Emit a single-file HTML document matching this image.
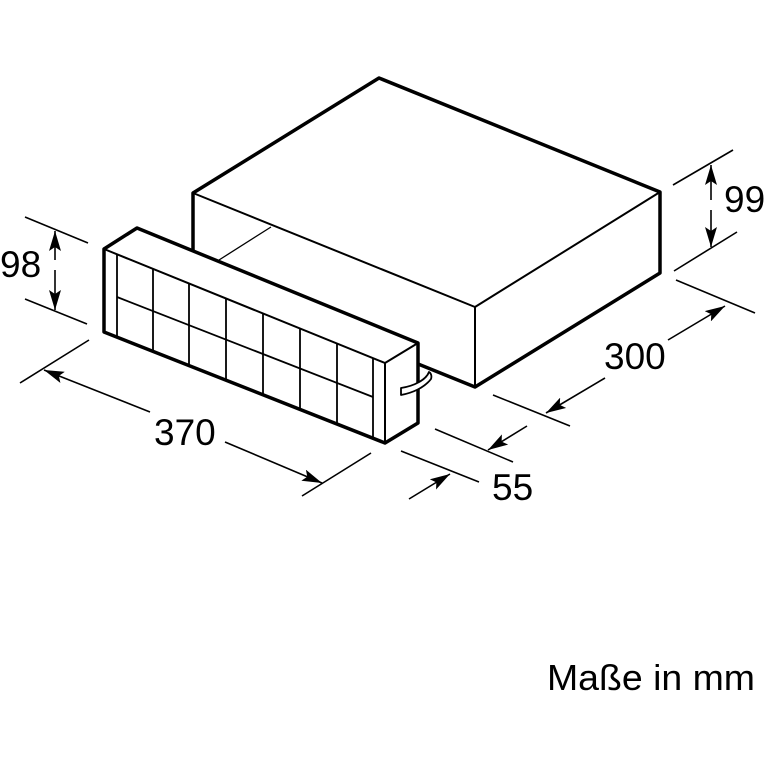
<!DOCTYPE html>
<html><head><style>body{margin:0;background:#fff}svg{display:block}</style></head><body>
<svg width="770" height="770" viewBox="0 0 770 770" xmlns="http://www.w3.org/2000/svg" font-family="Liberation Sans, sans-serif">
<defs>
<marker id="b" viewBox="0 0 20 12" markerWidth="20" markerHeight="12" refX="20" refY="6" orient="auto" markerUnits="userSpaceOnUse"><path d="M0,0L20,6L0,12L4,6z" fill="#000"/></marker></defs>
<g stroke="#000" fill="none" stroke-linejoin="round">
<polygon points="193,193 379,78 660,192 660,273 475,387 193,273" fill="#fff" stroke-width="3.5"/>
<polyline points="193,193 475,307 660,192" stroke-width="2"/>
<line x1="475" y1="307" x2="475" y2="387" stroke-width="2"/>
<line x1="219" y1="260" x2="271" y2="227" stroke-width="1.3"/>
<polygon points="104,249 137,228 418,343 418,423 385,443 104,332" fill="#fff" stroke-width="3.5"/>
<polyline points="104,249 385,363 418,343" stroke-width="2"/>
<line x1="385" y1="363" x2="385" y2="443" stroke-width="2"/>
<g stroke-width="1.8">
<line x1="117" y1="254" x2="117" y2="337"/>
<line x1="153" y1="269" x2="153" y2="351"/>
<line x1="189" y1="284" x2="189" y2="366"/>
<line x1="226" y1="299" x2="226" y2="380"/>
<line x1="263" y1="314" x2="263" y2="395"/>
<line x1="300" y1="329" x2="300" y2="409"/>
<line x1="337" y1="344" x2="337" y2="424"/>
<line x1="373" y1="358" x2="373" y2="438"/>
<line x1="117" y1="297" x2="373" y2="397"/>
</g>
<path d="M401,395 C412,393 424,388 431,379 C432,376 431,373 429,372 C426,380 414,386 401,388 Z" fill="#fff" stroke-width="1.8"/>
<g stroke-width="1.6">
<line x1="25" y1="217" x2="88" y2="243"/><line x1="25" y1="299" x2="87" y2="324"/>
<line x1="55" y1="260" x2="55" y2="231" marker-end="url(#b)"/><line x1="55" y1="270" x2="55" y2="310" marker-end="url(#b)"/>
<line x1="20" y1="383" x2="89" y2="340"/><line x1="302" y1="496" x2="371" y2="453"/>
<line x1="150" y1="412" x2="44" y2="370" marker-end="url(#b)"/><line x1="225" y1="442" x2="322" y2="483" marker-end="url(#b)"/>
<line x1="673" y1="185" x2="733" y2="150"/><line x1="674" y1="271" x2="737" y2="232"/>
<line x1="711" y1="200" x2="711" y2="165" marker-end="url(#b)"/><line x1="711" y1="210" x2="711" y2="247" marker-end="url(#b)"/>
<line x1="676" y1="280" x2="755" y2="313"/><line x1="493" y1="395" x2="570" y2="426"/>
<line x1="668" y1="340" x2="725" y2="306" marker-end="url(#b)"/><line x1="605" y1="378" x2="546" y2="413" marker-end="url(#b)"/>
<line x1="435" y1="429" x2="513" y2="462"/><line x1="401" y1="451" x2="479" y2="482"/>
<line x1="527" y1="426" x2="488" y2="450" marker-end="url(#b)"/><line x1="409" y1="499" x2="450" y2="474" marker-end="url(#b)"/>
</g>
</g>
<g font-size="37" fill="#000">
<text x="0" y="277">98</text>
<text x="154" y="445">370</text>
<text x="724" y="212">99</text>
<text x="604" y="369">300</text>
<text x="492" y="500">55</text>
<text x="547" y="690" font-size="36" textLength="208" lengthAdjust="spacingAndGlyphs">Maße in mm</text>
</g>
</svg>
</body></html>
